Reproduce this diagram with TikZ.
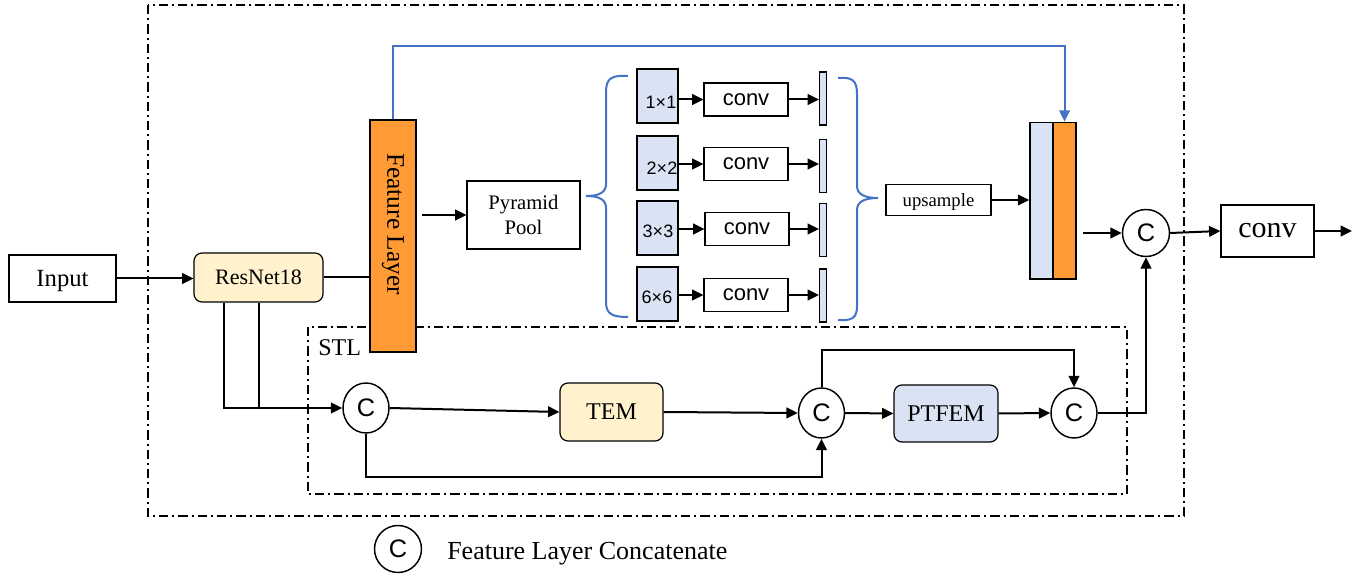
\documentclass[tikz,border=0pt]{standalone}
\usepackage{fontspec}
\setmainfont{Liberation Serif}
\setsansfont{Liberation Sans}
\usetikzlibrary{arrows.meta,shapes.geometric}

\definecolor{featorange}{HTML}{FF9A35}
\definecolor{paleblue}{HTML}{DAE3F3}
\definecolor{paleyellow}{HTML}{FFF2CC}
\definecolor{linkblue}{HTML}{4472C4}

\tikzset{
  arr/.style={line width=1.5pt,-{Triangle[length=8.5pt,width=8pt]}},
  wire/.style={line width=1.5pt},
  plainbox/.style={draw,line width=0.9pt,inner sep=0pt,align=center},
  softbox/.style={plainbox,rounded corners=6pt},
  catnode/.style={draw,line width=1.1pt,ellipse,inner sep=0pt,minimum width=34.5pt,minimum height=37.5pt,font=\sffamily\fontsize{19}{19}\selectfont},
  roundcat/.style={draw,line width=1.1pt,circle,inner sep=0pt,minimum size=35.25pt,font=\sffamily\fontsize{19}{19}\selectfont},
  poolblock/.style={draw,line width=0.9pt,fill=paleblue,minimum width=30.75pt,minimum height=40.5pt,inner sep=0pt},
  poolconv/.style={plainbox,minimum width=63pt,minimum height=24.75pt,font=\sffamily\fontsize{16.5}{17}\selectfont},
  thinbar/.style={draw,line width=0.8pt,fill=paleblue,minimum width=5.25pt,minimum height=39.75pt,inner sep=0pt},
  sizelabel/.style={inner sep=0pt,font=\sffamily\fontsize{13.5}{14}\selectfont},
  dashdot/.style={line width=1.2pt,dash pattern=on 7pt off 3pt on 1.5pt off 3pt},
  bracepath/.style={linkblue,line width=1.5pt},
}

\begin{document}
\begin{tikzpicture}[x=0.75pt,y=-0.75pt]
\useasboundingbox (0,0) rectangle (1360,580);

% frames
\draw[dashdot] (148,5) rectangle (1184,516);
\draw[dashdot] (308,327) rectangle (1127,494);
\node[anchor=north west,inner sep=0pt,font=\fontsize{18}{18}\selectfont] (stl) at (318,339) {STL};

% backbone
\node[plainbox,text depth=0pt,minimum width=80.25pt,minimum height=35.25pt,font=\fontsize{18.5}{19}\selectfont] (input) at (62.5,278.5) {Input};
\node[softbox,fill=paleyellow,minimum width=96.75pt,minimum height=36.75pt,font=\fontsize{16.5}{17}\selectfont] (resnet) at (258.5,277.5) {ResNet18};
\node[draw,line width=1.4pt,fill=featorange,minimum width=34.5pt,minimum height=174pt,inner sep=0pt] (feat) at (393,236) {};
\node[rotate=-90,inner sep=0pt,font=\fontsize{19}{19}\selectfont] (featlabel) at ([yshift=9pt]feat.center) {Feature Layer};
\node[plainbox,minimum width=84.75pt,minimum height=51pt,font=\fontsize{15.5}{18.75}\selectfont] (pp) at (523.5,215) {Pyramid\\Pool};

% pyramid branches
\foreach \i/\by/\cy/\cx/\bary/\lx/\ly/\s in {1/96/99.5/746/98.5/661/102/1×1, 2/163/164/746/166/662/168/2×2, 3/228/229/747/230/658/231/3×3, 4/294/295/746/295.5/657/297/6×6}{
  \node[poolblock] (b\i) at (657.5,\by) {};
  \node[sizelabel] (l\i) at (\lx,\ly) {\s};
  \node[poolconv] (conv\i) at (\cx,\cy) {conv};
  \node[thinbar] (bar\i) at (823,\bary) {};
  \draw[arr] ([xshift=-1.5pt]b\i.east |- conv\i.west) -- (conv\i.west);
  \draw[arr] (conv\i.east) -- (conv\i.east -| bar\i.west);
}

% braces
\draw[bracepath] (628,76) .. controls (612,75) and (606,78) .. (606,92) -- (606,184)
  .. controls (606,192) and (600,196) .. (586,196)
  .. controls (600,196) and (606,200) .. (606,208) -- (606,302)
  .. controls (606,314) and (612,317) .. (628,317);
\draw[bracepath] (838,78) .. controls (852,77) and (857,80) .. (857,94) -- (857,186)
  .. controls (857,194) and (864,198) .. (878,198)
  .. controls (864,198) and (857,202) .. (857,210) -- (857,306)
  .. controls (857,318) and (852,321) .. (838,320);

\node[plainbox,text depth=0pt,minimum width=78.75pt,minimum height=22.9pt,font=\fontsize{14}{14}\selectfont] (ups) at (938.5,200) {upsample};

% concatenated feature map
\node[draw,line width=1.3pt,fill=paleblue,minimum width=17.25pt,minimum height=117.4pt,inner sep=0pt] (catb) at (1041.5,200.75) {};
\node[draw,line width=1.3pt,fill=featorange,minimum width=17.25pt,minimum height=117.4pt,inner sep=0pt] (cato) at (1064.5,200.75) {};

\node[roundcat] (cR) at (1146,233) {C};
\node[plainbox,minimum width=69.75pt,minimum height=39pt,font=\fontsize{22.5}{22.5}\selectfont] (convout) at (1267.5,231) {conv};
\coordinate (outend) at (1352,231);

% STL modules
\node[catnode] (c1) at (366,408) {C};
\node[softbox,fill=paleyellow,minimum width=77.25pt,minimum height=43.5pt,font=\fontsize{18}{18}\selectfont] (tem) at (611.5,412) {TEM};
\node[catnode] (c2) at (821.5,413) {C};
\node[softbox,fill=paleblue,minimum width=78pt,minimum height=42.75pt,font=\fontsize{18}{18}\selectfont] (ptfem) at (946,413.5) {PTFEM};
\node[catnode] (c3) at (1074,413) {C};

% legend
\node[roundcat] (lc) at (398,549) {C};
\node[anchor=west,inner sep=0pt,font=\fontsize{19.5}{19.5}\selectfont] (lt) at (447,554) {Feature Layer Concatenate};

% connectors
\draw[arr] (input.east) -- (input.east -| resnet.west);
\draw[wire] (resnet.east) -- (resnet.east -| feat.west);
\draw[arr] ([xshift=3.75pt]feat.east |- pp.west) -- (pp.west);
\draw[linkblue,line width=1.5pt,-{Triangle[length=8.5pt,width=8pt]}] (feat.north) -- (feat.north |- 0,46) -| (cato.north);
\draw[arr] (ups.east) -- (ups.east -| catb.west);
\draw[arr] ([xshift=4.5pt]cato.east |- cR.west) -- (cR.west);
\draw[arr] (cR.east) -- (convout.west);
\draw[arr] (convout.east) -- (outend);

\draw[wire] ([xshift=-26pt]resnet.south) |- (resnet.south |- c1.west);
\draw[arr] (resnet.south) |- (c1.west);
\draw[arr] (c1.east) -- (tem.west);
\draw[arr] (tem.east) -- (c2.west);
\draw[arr] (c2.east) -- (ptfem.west);
\draw[arr] (ptfem.east) -- (c3.west);
\draw[arr] (c1.south) -- ++(0,43) -| (c2.south);
\draw[arr] (c2.north) -- ++(0,-37) -| (c3.north);
\draw[arr] (c3.east) -| (cR.south);
\end{tikzpicture}
\end{document}
